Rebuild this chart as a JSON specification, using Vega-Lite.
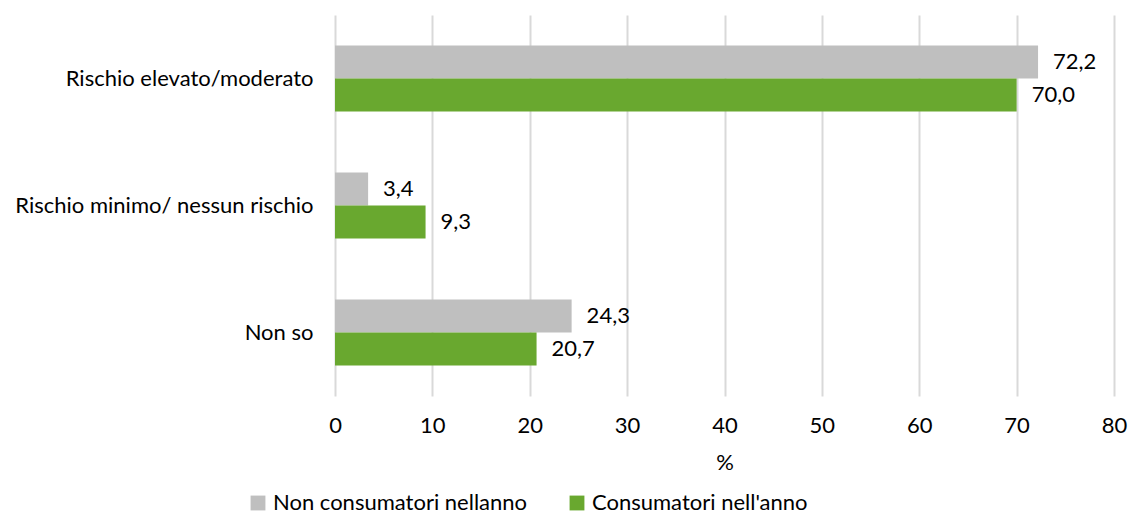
{
  "$schema": "https://vega.github.io/schema/vega-lite/v6.json",
  "width": 779,
  "height": 381,
  "autosize": {"type": "none"},
  "padding": {"left": 335, "top": 15, "right": 14, "bottom": 118},
  "background": "white",
  "config": {
    "locale": {"number": {"decimal": ",", "thousands": ".", "grouping": [3], "currency": ["€", ""]}},
    "font": "Lato",
    "view": {"stroke": null}
  },
  "data": {
    "values": [
      {"cat": "Rischio elevato/moderato", "group": "Non consumatori nellanno", "value": 72.2},
      {"cat": "Rischio elevato/moderato", "group": "Consumatori nell'anno", "value": 70.0},
      {"cat": "Rischio minimo/ nessun rischio", "group": "Non consumatori nellanno", "value": 3.4},
      {"cat": "Rischio minimo/ nessun rischio", "group": "Consumatori nell'anno", "value": 9.3},
      {"cat": "Non so", "group": "Non consumatori nellanno", "value": 24.3},
      {"cat": "Non so", "group": "Consumatori nell'anno", "value": 20.7}
    ]
  },
  "encoding": {
    "y": {
      "field": "cat", "type": "nominal",
      "sort": ["Rischio elevato/moderato", "Rischio minimo/ nessun rischio", "Non so"],
      "scale": {"paddingInner": 0.48, "paddingOuter": 0.24},
      "axis": {"title": null, "ticks": false, "domain": false, "labelFontSize": 22, "labelColor": "#000000", "labelPadding": 22, "labelLimit": 400}
    },
    "yOffset": {
      "field": "group", "type": "nominal",
      "sort": ["Non consumatori nellanno", "Consumatori nell'anno"],
      "scale": {"paddingInner": 0, "paddingOuter": 0}
    },
    "x": {
      "field": "value", "type": "quantitative",
      "scale": {"domain": [0, 80], "nice": false},
      "axis": {"title": "%", "values": [0,10,20,30,40,50,60,70,80], "labelOverlap": false, "labelFlush": false, "ticks": false, "domain": false, "grid": true, "gridColor": "#d9d9d9", "gridWidth": 2, "labelFontSize": 22, "labelColor": "#000000", "labelPadding": 19, "titleFontSize": 22, "titleFontWeight": "normal", "titleColor": "#000000", "titlePadding": 16}
    }
  },
  "layer": [
    {
      "mark": {"type": "bar"},
      "encoding": {
        "color": {
          "field": "group", "type": "nominal",
          "sort": ["Non consumatori nellanno", "Consumatori nell'anno"],
          "scale": {"domain": ["Non consumatori nellanno", "Consumatori nell'anno"], "range": ["#bfbfbf", "#69a82f"]},
          "legend": {"title": null, "orient": "none", "direction": "horizontal", "legendX": -88, "legendY": 477, "symbolType": "square", "symbolSize": 220, "symbolStrokeWidth": 0, "labelFontSize": 22, "labelColor": "#000000", "columnPadding": 38, "labelLimit": 400, "symbolOpacity": 1}
        }
      }
    },
    {
      "mark": {"type": "text", "align": "left", "baseline": "middle", "dx": 15, "fontSize": 22, "color": "#000000"},
      "encoding": {
        "text": {"field": "value", "type": "quantitative", "format": ".1f"}
      }
    }
  ]
}
